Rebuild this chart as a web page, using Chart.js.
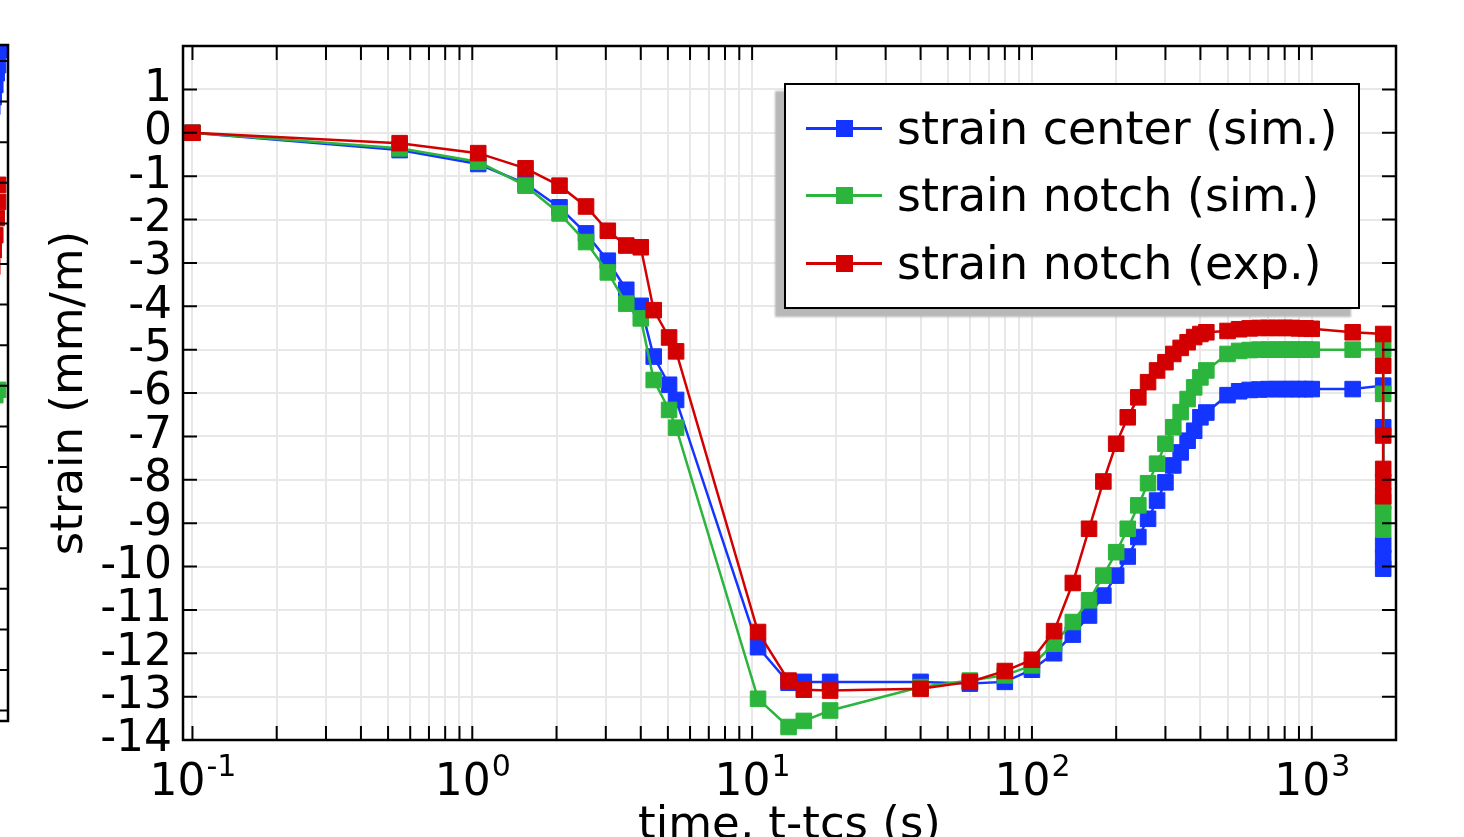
<!DOCTYPE html>
<html>
<head>
<meta charset="utf-8">
<script src="https://cdn.jsdelivr.net/npm/chart.js@4.4.1/dist/chart.umd.min.js"></script>
<style>
  html, body { margin: 0; padding: 0; background: #fff; overflow: hidden; }
  body { width: 1464px; height: 837px; position: relative; font-family: 'DejaVu Sans', sans-serif; }
  #mainChart { position: absolute; left: 0; top: 0; }
  #sideChart { position: absolute; left: -181px; top: 0; }
  #legend {
    position: absolute; left: 784px; top: 83px; width: 576px; height: 226px;
    box-sizing: border-box; border: 2.5px solid #000; background: #fff;
    box-shadow: -9px 8px 2px #b8b8b8;
  }
  #legend .row { position: absolute; left: 0; height: 60px; display: flex; align-items: center; }
  #legend .sym { position: relative; width: 76px; height: 17px; margin-left: 20px; }
  #legend .ln { position: absolute; left: 0; right: 0; top: 7px; height: 3px; }
  #legend .sq { position: absolute; left: 30px; top: 0; width: 17px; height: 17px; }
  #legend .lbl { margin-left: 15px; font-size: 46px; line-height: 1; color: #000; white-space: nowrap; }
</style>
</head>
<body>
<canvas id="mainChart" width="1464" height="837"></canvas>
<canvas id="sideChart" width="201" height="837"></canvas>
<div id="legend"></div>
<script>
// time axis, t-tcs (s)
const timeSim = [0.1, 0.55, 1.05, 1.55, 2.05, 2.55, 3.05, 3.55, 4.0, 4.45, 5.05, 5.35,
    10.5, 13.5, 15.3, 19,
    40, 60, 80, 100, 120, 140, 160, 180, 200, 220, 240, 260, 280, 300, 320, 340, 360, 380, 400, 420,
    500, 550, 600, 650, 700, 750, 800, 850, 900, 950, 1000, 1400, 1800];

// strain (mm/m)
const strainCenter = [0, -0.40, -0.72, -1.17, -1.72, -2.32, -2.95, -3.62, -3.99, -5.16, -5.81, -6.16,
    -11.86, -12.68, -12.66, -12.66,
    -12.66, -12.70, -12.66, -12.38, -12.00, -11.57, -11.13, -10.67, -10.21, -9.77, -9.32, -8.90, -8.48, -8.06, -7.67, -7.37, -7.10, -6.87, -6.56, -6.45,
    -6.05, -5.96, -5.93, -5.92, -5.91, -5.91, -5.91, -5.91, -5.91, -5.91, -5.91, -5.91, -5.83];
const strainNotchSim = [0, -0.36, -0.67, -1.22, -1.86, -2.52, -3.22, -3.94, -4.28, -5.70, -6.39, -6.80,
    -13.05, -13.70, -13.56, -13.32,
    -12.78, -12.63, -12.51, -12.28, -11.78, -11.28, -10.78, -10.21, -9.67, -9.13, -8.59, -8.08, -7.63, -7.17, -6.79, -6.44, -6.14, -5.87, -5.64, -5.48,
    -5.10, -5.03, -5.01, -5.00, -5.00, -5.00, -5.00, -5.00, -5.00, -5.00, -5.00, -5.00, -4.99];
const strainNotchExp = [0, -0.24, -0.47, -0.82, -1.22, -1.70, -2.26, -2.60, -2.64, -4.09, -4.72, -5.04,
    -11.51, -12.63, -12.84, -12.86,
    -12.82, -12.66, -12.41, -12.15, -11.49, -10.38, -9.13, -8.04, -7.17, -6.56, -6.10, -5.75, -5.48, -5.29, -5.10, -4.96, -4.83, -4.71, -4.64, -4.60,
    -4.57, -4.53, -4.51, -4.50, -4.50, -4.50, -4.50, -4.50, -4.51, -4.51, -4.52, -4.60, -4.64];

// last time step: values fall off at the same t
const dropTime = 1800;
const dropCenter = [-6.79, -9.50, -9.80, -10.05];
const dropNotchSim = [-6.02, -8.50, -8.80, -9.15];
const dropNotchExp = [-5.37, -6.98, -7.75, -8.05, -8.38];

// tick values
const xTickValues = [0.1, 0.2, 0.3, 0.4, 0.5, 0.6, 0.7, 0.8, 0.9, 1, 2, 3, 4, 5, 6, 7, 8, 9,
    10, 20, 30, 40, 50, 60, 70, 80, 90, 100, 200, 300, 400, 500, 600, 700, 800, 900, 1000, 2000];
const decadeValues = [0.1, 1, 10, 100, 1000];
const decadeExponents = ['-1', '0', '1', '2', '3'];
const yTickValues = [-14, -13, -12, -11, -10, -9, -8, -7, -6, -5, -4, -3, -2, -1, 0, 1, 2];

// neighbouring panel (only its right edge is visible)
const sideTimeCenter = [91.1, 91.9, 92.8, 93.6, 94.4, 95.3];
const sideCenter = [0.87, 1.11, 1.41, 1.70, 1.90, 2.27];
const sideTimeNotchExp = [91.1, 91.9, 92.8, 93.6, 94.4, 94.4];
const sideNotchExp = [-3.07, -2.66, -2.29, -1.87, -1.47, -1.05];
const sideTimeNotchSim = [92.8, 94.4];
const sideNotchSim = [-6.23, -6.10];

const BLUE = '#1435ff';
const GREEN = '#2bb53c';
const RED = '#d20000';
const FONT = "'DejaVu Sans', sans-serif";

Chart.defaults.font.family = FONT;
Chart.defaults.color = '#000';

function toPoints(times, values) {
    return times.map((t, i) => ({ x: t, y: values[i] }));
}

function withDrop(values, drops) {
    return toPoints(timeSim, values).concat(drops.map(v => ({ x: dropTime, y: v })));
}

function series(label, color, data, order) {
    return {
        label: label,
        data: data,
        borderColor: color,
        backgroundColor: color,
        pointBackgroundColor: color,
        pointBorderColor: color,
        borderWidth: 2.5,
        pointStyle: 'rect',
        pointRadius: 11,
        pointBorderWidth: 1,
        tension: 0,
        order: order
    };
}

// box round the plot with ticks pointing inward
const framePlugin = {
    id: 'frame',
    afterDatasetsDraw(chart, args, opts) {
        const { ctx, chartArea: a, scales } = chart;
        const len = opts.tickLength;
        ctx.save();
        ctx.strokeStyle = '#000';
        ctx.lineWidth = 2;
        ctx.beginPath();
        (opts.xValues || []).forEach(v => {
            const px = scales.x.getPixelForValue(v);
            if (px <= a.left + 1 || px >= a.right - 1) return;
            ctx.moveTo(px, a.bottom); ctx.lineTo(px, a.bottom - len);
            ctx.moveTo(px, a.top); ctx.lineTo(px, a.top + len);
        });
        (opts.yValues || []).forEach(v => {
            const py = scales.y.getPixelForValue(v);
            if (py <= a.top + 1 || py >= a.bottom - 1) return;
            ctx.moveTo(a.left, py); ctx.lineTo(a.left + len, py);
            ctx.moveTo(a.right, py); ctx.lineTo(a.right - len, py);
        });
        ctx.stroke();
        ctx.lineWidth = 2.5;
        ctx.strokeRect(a.left, a.top, a.right - a.left, a.bottom - a.top);
        ctx.restore();
    }
};

// decade labels 10^n with a raised exponent
const decadeLabelPlugin = {
    id: 'decadeLabels',
    afterDraw(chart) {
        const { ctx, scales } = chart;
        const base = chart.chartArea.bottom + 55;
        ctx.save();
        ctx.fillStyle = '#000';
        ctx.textBaseline = 'alphabetic';
        ctx.textAlign = 'left';
        decadeValues.forEach((v, i) => {
            const px = scales.x.getPixelForValue(v);
            ctx.font = '44px ' + FONT;
            const wBase = ctx.measureText('10').width;
            ctx.font = '30px ' + FONT;
            const wExp = ctx.measureText(decadeExponents[i]).width;
            const left = px - (wBase + wExp) / 2;
            ctx.font = '44px ' + FONT;
            ctx.fillText('10', left, base);
            ctx.font = '30px ' + FONT;
            ctx.fillText(decadeExponents[i], left + wBase + 1, base - 19);
        });
        ctx.restore();
    }
};

const mainChart = new Chart(document.getElementById('mainChart').getContext('2d'), {
    type: 'line',
    data: {
        datasets: [
            series('strain center (sim.)', BLUE, withDrop(strainCenter, dropCenter), 2),
            series('strain notch (sim.)', GREEN, withDrop(strainNotchSim, dropNotchSim), 1),
            series('strain notch (exp.)', RED, withDrop(strainNotchExp, dropNotchExp), 0)
        ]
    },
    options: {
        responsive: false,
        animation: false,
        layout: { padding: { top: 46, right: 68, left: 0, bottom: 0 } },
        plugins: {
            legend: { display: false },
            tooltip: { enabled: false },
            frame: { tickLength: 14, xValues: xTickValues, yValues: yTickValues }
        },
        scales: {
            x: {
                type: 'logarithmic',
                min: 0.0925,
                max: 2000,
                afterFit: s => { s.height = 97; },
                afterBuildTicks: s => { s.ticks = xTickValues.map(v => ({ value: v })); },
                grid: { color: '#e8e8e8', lineWidth: 2, drawTicks: false },
                border: { display: false },
                ticks: {
                    autoSkip: false,
                    maxRotation: 0,
                    callback: () => ''
                },
                title: {
                    display: true,
                    text: 'time, t-tcs (s)',
                    font: { size: 45 },
                    padding: { top: 0, bottom: -16 }
                }
            },
            y: {
                type: 'linear',
                min: -14,
                max: 2,
                afterFit: s => { s.width = 183; },
                grid: { color: '#e8e8e8', lineWidth: 2, drawTicks: false },
                border: { display: false },
                ticks: {
                    stepSize: 1,
                    autoSkip: false,
                    padding: 11,
                    font: { size: 44 },
                    callback: value => value === 2 ? '' : String(value)
                },
                title: {
                    display: true,
                    text: 'strain (mm/m)',
                    font: { size: 45 },
                    padding: { top: 43, bottom: 0 }
                }
            }
        }
    },
    plugins: [framePlugin, decadeLabelPlugin]
});

new Chart(document.getElementById('sideChart').getContext('2d'), {
    type: 'line',
    data: {
        datasets: [
            series('strain center (sim.)', BLUE, toPoints(sideTimeCenter, sideCenter), 2),
            series('strain notch (sim.)', GREEN, toPoints(sideTimeNotchSim, sideNotchSim), 1),
            series('strain notch (exp.)', RED, toPoints(sideTimeNotchExp, sideNotchExp), 0)
        ]
    },
    options: {
        responsive: false,
        animation: false,
        layout: { padding: { top: 45, right: 0.5, left: 0, bottom: 116 } },
        plugins: {
            legend: { display: false },
            tooltip: { enabled: false },
            frame: { tickLength: 14, yValues: yTickValues }
        },
        scales: {
            x: { type: 'linear', min: 0, max: 100, display: false },
            y: { type: 'linear', min: -14.256, max: 2.394, display: false }
        }
    },
    plugins: [framePlugin]
});

// legend box drawn from the chart's datasets
const legendBox = document.getElementById('legend');
const rowTops = [13, 80, 148];
mainChart.data.datasets.forEach((ds, i) => {
    const row = document.createElement('div');
    row.className = 'row';
    row.style.top = rowTops[i] + 'px';
    row.innerHTML = '<div class="sym"><div class="ln" style="background:' + ds.borderColor + '"></div>' +
        '<div class="sq" style="background:' + ds.borderColor + '"></div></div>' +
        '<div class="lbl">' + ds.label + '</div>';
    legendBox.appendChild(row);
});
</script>
</body>
</html>
